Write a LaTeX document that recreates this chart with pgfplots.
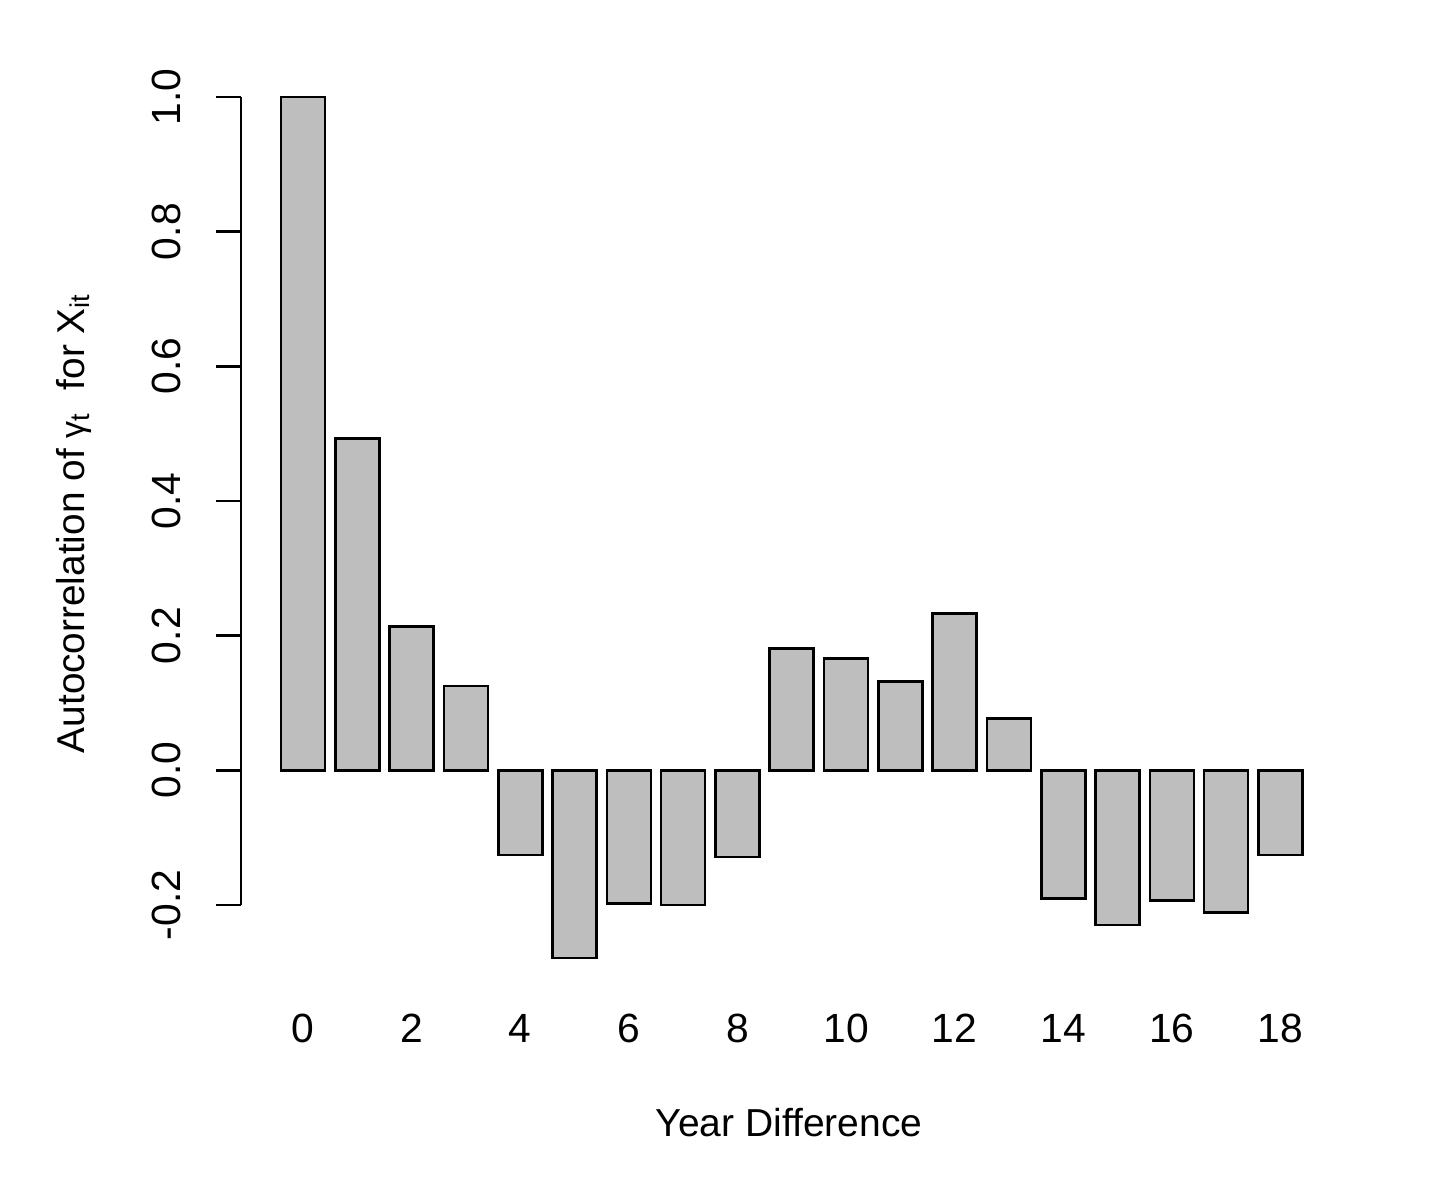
\documentclass[border=0pt]{standalone}
\usepackage{pgfplots}
\pgfplotsset{compat=1.18}
\usepackage{fontspec}
\setmainfont{Liberation Sans}
\definecolor{rgray}{RGB}{190,190,190}

\begin{document}
\begin{tikzpicture}
\path[use as bounding box] (0,0) rectangle (360pt,299.25pt);
\begin{axis}[
    at={(60.25pt,73pt)}, anchor=south west,
    scale only axis,
    width=268pt, height=202pt,
    xmin=-1.142, xmax=18.6,
    ymin=-0.2, ymax=1.0,
    clip=false,
    axis y line*=left,
    axis x line*=bottom,
    x axis line style={draw=none},
    xtick={0,2,...,18},
    xtick style={draw=none},
    ytick={-0.2,0,0.2,0.4,0.6,0.8,1.0},
    tick align=outside,
    major tick length=6.25pt,
    every axis plot/.append style={line width=0.65pt},
    y axis line style={line width=0.65pt},
    ytick style={line width=0.65pt, black},
    /pgf/number format/assume math mode=true,
    yticklabel style={/pgf/number format/fixed, /pgf/number format/precision=1,
        /pgf/number format/fixed zerofill,
        xshift=-12.5pt, rotate=90, anchor=center},
    xticklabel style={anchor=center, yshift=-24.5pt},
    tick label style={font=\fontsize{10.2}{12}\selectfont},
]
\addplot[ybar, bar width=11pt, bar shift=0pt, fill=rgray, draw=black]
    coordinates {
        (0,1.000) (1,0.493) (2,0.214) (3,0.125) (4,-0.126)
        (5,-0.279) (6,-0.198) (7,-0.200) (8,-0.129) (9,0.181)
        (10,0.166) (11,0.132) (12,0.233) (13,0.077) (14,-0.190)
        (15,-0.230) (16,-0.193) (17,-0.211) (18,-0.126)
    };
\end{axis}
\node[anchor=base, font=\fontsize{9.75}{11}\selectfont] at (197.25pt,15pt) {Year Difference};
\node[anchor=base, rotate=90, font=\fontsize{9.7}{11}\selectfont] at (21pt,168.5pt)
    {Autocorrelation of {\fontsize{8.5}{10}\selectfont γ}\textsubscript{t}\ \ for X\textsubscript{it}};
\end{tikzpicture}
\end{document}
